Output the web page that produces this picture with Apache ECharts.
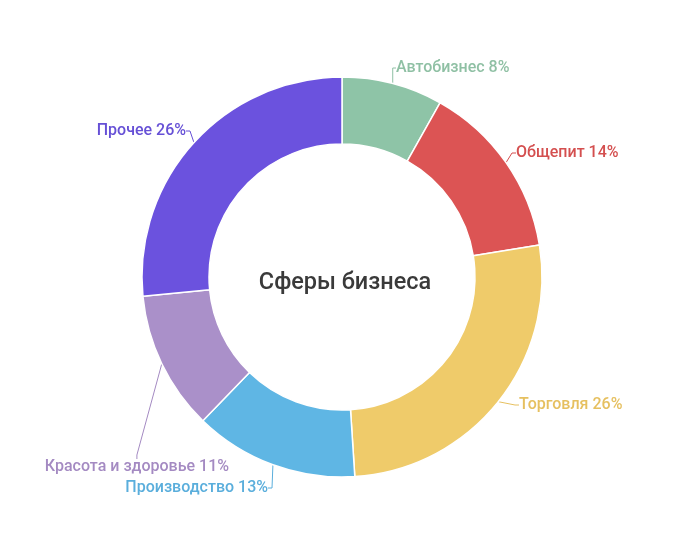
<!DOCTYPE html>
<html><head><meta charset="utf-8">
<script src="https://cdn.jsdelivr.net/npm/echarts@6/dist/echarts.min.js"></script>
<style>html,body{margin:0;padding:0;background:#fff}#c{width:683px;height:554px}</style>
</head><body><div id="c"></div>
<script>
const categories = ['Автобизнес','Общепит','Торговля','Производство','Красота и здоровье','Прочее'];
const values = [8,14,26,13,11,26];
const fillColors = ['#8ec4a7','#dc5454','#efcb6a','#5fb6e4','#aa90c9','#6b52de'];
const labelColors = ['#8fc0a4','#d44f4f','#e6c060','#5aaedc','#a48ac2','#6650d6'];
const centerTitle = 'Сферы бизнеса';
// label anchor placement (pixel layout, not data)
const labelPlace = [[396,68,'left'],[516,153,'left'],[519,405,'left'],[268,488,'right'],[229,467,'right'],[186,131,'right']];

const chart = echarts.init(document.getElementById('c'));
chart.setOption({
  animation:false,
  title:{text:centerTitle,left:340,top:278,textAlign:'center',textVerticalAlign:'middle',
    textStyle:{fontFamily:'Roboto',fontSize:23.5,fontWeight:500,color:'#3a3a3a'}},
  series:[{
    type:'pie',
    center:[342,277],
    radius:[133,200],
    startAngle:90,
    clockwise:true,
    avoidLabelOverlap:false,
    itemStyle:{borderColor:'#fff',borderWidth:1.5},
    label:{formatter:'{b} {c}%',fontFamily:'Roboto',fontSize:16,fontWeight:500,distanceToLabelLine:2},
    labelLine:{length:12,length2:4,lineStyle:{width:1}},
    labelLayout:function(p){
      const q = labelPlace[p.dataIndex];
      return {x:q[0],y:q[1],align:q[2],verticalAlign:'middle'};
    },
    data:categories.map((n,i)=>({name:n,value:values[i],
      itemStyle:{color:fillColors[i]},
      label:{color:labelColors[i]},
      labelLine:{lineStyle:{color:labelColors[i]}}}))
  }]
});
</script></body></html>
